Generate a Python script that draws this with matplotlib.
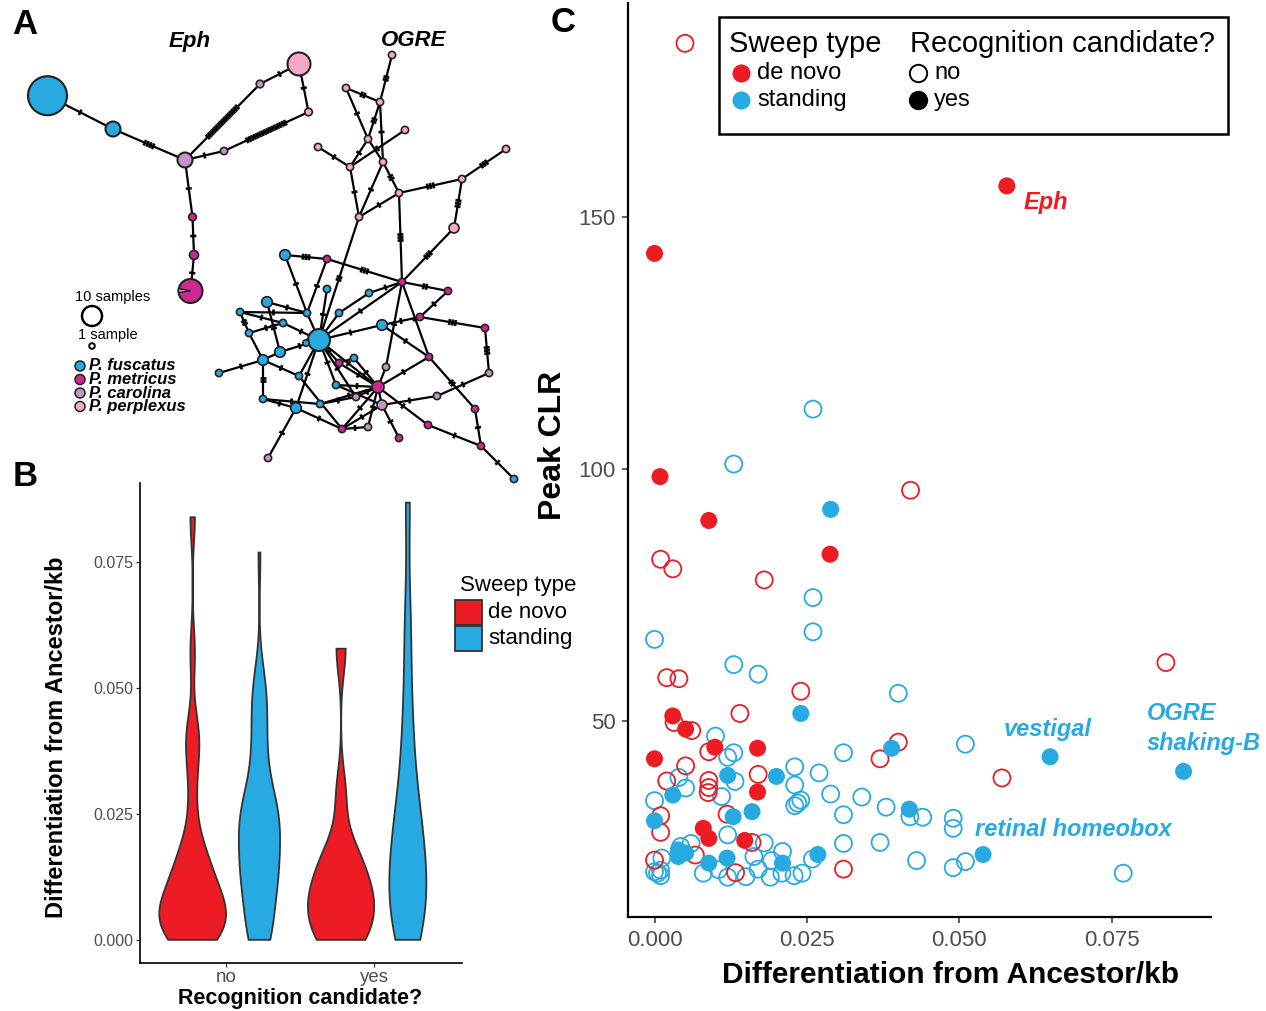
import numpy as np
import matplotlib
matplotlib.use("Agg")
import matplotlib.pyplot as plt
from matplotlib.patches import Circle, Rectangle, Wedge, Polygon
from matplotlib.lines import Line2D

plt.rcParams['font.family'] = ['Liberation Sans', 'DejaVu Sans']

# ---------------- data (panel C, also used for panel B violins) ----------------
denovo_yes_x = [0.0578, 0.000, 0.0009, 0.0089, 0.0288, 0.003, 0.0051, 0.0099, 0.0169,
                0.000, 0.0169, 0.008, 0.0089, 0.0148]
denovo_yes_clr = [156.2, 142.8, 98.5, 89.8, 83.1, 51.0, 48.4, 44.8, 44.6,
                  42.5, 35.9, 28.7, 26.7, 26.3]

denovo_no_x = [0.0050, 0.042, 0.001, 0.003, 0.018, 0.0839, 0.002, 0.004, 0.024, 0.014,
               0.0032, 0.0061, 0.040, 0.0089, 0.037, 0.0051, 0.057, 0.017, 0.002, 0.0089,
               0.0089, 0.0088, 0.0119, 0.001, 0.001, 0.016, 0.0067, 0.000, 0.0133, 0.031]
denovo_no_clr = [184.5, 95.8, 82.1, 80.2, 78.0, 61.6, 58.6, 58.4, 55.9, 51.5,
                 49.7, 48.1, 45.8, 43.9, 42.5, 41.1, 38.7, 39.4, 38.1, 38.2,
                 36.8, 35.8, 31.5, 31.2, 27.9, 25.9, 23.4, 22.4, 19.9, 20.6]

standing_yes_x = [0.0289, 0.024, 0.0389, 0.0649, 0.0868, 0.012, 0.020, 0.003, 0.0418, 0.016,
                  0.0129, 0.000, 0.0039, 0.0039, 0.0051, 0.0268, 0.0539, 0.0119, 0.0089, 0.021]
standing_yes_clr = [92.0, 51.5, 44.6, 42.9, 40.0, 39.2, 39.0, 35.3, 32.5, 32.0,
                    31.0, 30.2, 24.4, 23.1, 23.8, 23.5, 23.5, 22.8, 21.8, 21.8]

standing_no_x = [0.026, 0.013, 0.026, 0.026, 0.000, 0.013, 0.017, 0.040, 0.010, 0.051,
                 0.013, 0.012, 0.031, 0.023, 0.027, 0.004, 0.0132, 0.023, 0.0051, 0.011,
                 0.0289, 0.034, 0.000, 0.024, 0.023, 0.0235, 0.038, 0.031, 0.0419, 0.044,
                 0.049, 0.049, 0.012, 0.018, 0.031, 0.037, 0.006, 0.0043, 0.021, 0.0012,
                 0.0163, 0.0192, 0.043, 0.051, 0.0259, 0.049, 0.0769, 0.000, 0.001, 0.001,
                 0.0005, 0.008, 0.012, 0.015, 0.017, 0.019, 0.0209, 0.0229, 0.0242, 0.0105]
standing_no_clr = [111.9, 101.0, 74.5, 67.7, 66.2, 61.2, 59.3, 55.5, 47.0, 45.4,
                   43.7, 42.8, 43.7, 40.9, 39.7, 38.8, 38.0, 37.3, 36.7, 35.0,
                   35.5, 34.9, 34.2, 34.3, 33.2, 33.7, 32.9, 31.4, 31.0, 30.9,
                   30.7, 28.7, 27.4, 25.8, 25.7, 25.9, 25.7, 25.1, 24.1, 22.8,
                   23.1, 22.3, 22.3, 22.1, 22.6, 20.9, 19.8, 20.1, 20.4, 19.3,
                   19.8, 19.8, 19.0, 19.1, 20.6, 19.0, 19.8, 19.3, 19.8, 20.5]

recognition_cats = ['no', 'yes']
sweep_types = ['de novo', 'standing']
x_ticks_c = [0.000, 0.025, 0.050, 0.075]
y_ticks_c = [50, 100, 150]
y_ticks_b = [0.000, 0.025, 0.050, 0.075]

# ---------------- panel A network layout ----------------
network_nodes = [
    # Eph
    ('E1', 47.5, 95.7, 19.5, 'fu'), ('E2', 113, 129, 7.5, 'fu'), ('E3', 185, 160, 7.5, 'ca'),
    ('E4', 224, 151, 3.6, 'ca'), ('E5', 308.5, 112, 3.8, 'pe'), ('E6', 299, 64, 11.5, 'pe'),
    ('E7', 260, 84, 3.8, 'ca'), ('E8', 192.5, 217, 3.8, 'me'), ('E9', 194, 255, 4.5, 'me'),
    # OGRE
    ('P1', 392, 55, 3.6, 'pe'), ('P2', 346, 88, 3.6, 'pe'), ('P3', 380, 102, 3.6, 'pe'),
    ('P4', 368, 139, 3.6, 'pe'), ('P5', 405, 130, 3.6, 'pe'), ('P6', 318, 147, 3.6, 'pe'),
    ('P7', 383, 162, 3.6, 'pe'), ('P8', 350, 167, 3.6, 'pe'), ('P9', 506, 149, 3.6, 'pe'),
    ('P10', 462, 179, 3.6, 'pe'), ('P11', 399, 193, 3.6, 'pe'), ('P12', 359, 217, 3.6, 'pe'),
    ('P13', 454, 228, 5.0, 'pe'),
    ('B0', 319, 340, 11, 'fu'), ('B1', 285, 255, 5.3, 'fu'), ('B2', 327, 289, 3.6, 'fu'),
    ('B3', 369, 293, 3.6, 'fu'), ('B4', 267, 302, 5.3, 'fu'), ('B5', 240, 312, 3.6, 'fu'),
    ('B6', 307, 313, 3.6, 'fu'), ('B7', 339, 313, 3.6, 'fu'), ('B8', 283, 323, 3.6, 'fu'),
    ('B9', 382, 325, 5.3, 'fu'), ('B10', 249, 333, 3.6, 'fu'), ('B11', 280, 352, 5.3, 'fu'),
    ('B12', 263, 360, 5.3, 'fu'), ('B13', 219, 373, 3.6, 'fu'), ('B14', 299, 376, 3.6, 'fu'),
    ('B15', 354, 358, 3.6, 'fu'), ('B16', 336, 385, 3.6, 'fu'), ('B17', 263, 399, 3.6, 'fu'),
    ('B18', 296, 408, 5.3, 'fu'), ('B19', 320, 404, 3.6, 'fu'), ('B20', 306, 343, 3.2, 'fu'),
    ('BE', 514, 479, 3.6, 'fu'),
    ('M1', 402, 282, 3.6, 'me'), ('M2', 327, 259, 3.6, 'me'), ('M3', 448, 291, 3.6, 'me'),
    ('M4', 420, 317, 3.6, 'me'), ('M5', 485, 328, 3.6, 'me'), ('M6', 429, 357, 3.6, 'me'),
    ('M7', 378, 387, 6.0, 'me'), ('M8', 339, 363, 3.6, 'me'), ('M9', 342, 429, 3.6, 'me'),
    ('M10', 399, 438, 3.6, 'me'), ('M11', 475, 409, 3.6, 'me'), ('M12', 428, 425, 3.6, 'me'),
    ('M13', 481, 446, 3.6, 'me'),
    ('C1', 386, 367, 3.6, 'ca'), ('C2', 382, 405, 5.0, 'ca'), ('C3', 356, 397, 3.6, 'ca'),
    ('C4', 368, 427, 3.6, 'ca'), ('C5', 437, 396, 3.6, 'ca'), ('C6', 489, 373, 3.6, 'ca'),
    ('C7', 268, 458, 3.6, 'ca'),
]
pie_node = ('E10', 190.5, 291, 12, 'me')
network_edges = [
    ('E1', 'E2', 1), ('E2', 'E3', 4), ('E3', 'E4', 1), ('E4', 'E5', 16), ('E5', 'E6', 1),
    ('E3', 'E7', 16), ('E7', 'E6', 1), ('E3', 'E8', 1), ('E8', 'E9', 1), ('E9', 'E10', 1),
    ('P1', 'P3', 2), ('P2', 'P3', 2), ('P2', 'P4', 1), ('P3', 'P4', 2), ('P3', 'P7', 1),
    ('P4', 'P7', 0), ('P7', 'P11', 2), ('P4', 'P8', 1), ('P5', 'P8', 1), ('P6', 'P8', 1),
    ('P8', 'P12', 1), ('P7', 'P12', 1), ('P12', 'P11', 1), ('P11', 'P10', 3), ('P10', 'P9', 3),
    ('P10', 'P13', 3), ('P11', 'M1', 3), ('P13', 'M1', 3), ('P12', 'B0', 2),
    ('B1', 'M2', 3), ('M2', 'M1', 3), ('B1', 'B6', 1), ('M2', 'B6', 1), ('B2', 'B0', 1),
    ('B4', 'B6', 1), ('B5', 'B6', 1), ('B5', 'B10', 2), ('B4', 'B11', 2), ('B10', 'B8', 1),
    ('B8', 'B0', 1), ('B10', 'B12', 0), ('B12', 'B13', 1), ('B12', 'B11', 0), ('B11', 'B0', 1),
    ('B12', 'B17', 2), ('B17', 'B18', 1), ('B17', 'B19', 1), ('B18', 'C7', 1), ('B18', 'M9', 1),
    ('B12', 'B14', 1), ('B14', 'B0', 0), ('B0', 'B16', 1), ('B0', 'B18', 1), ('B0', 'C3', 1),
    ('B0', 'M7', 1), ('B7', 'B0', 0), ('B7', 'B3', 0), ('B3', 'M1', 1), ('B0', 'B9', 1),
    ('B9', 'M4', 1), ('M4', 'M3', 1), ('M1', 'M3', 2), ('M4', 'M5', 3), ('M5', 'C6', 3),
    ('C6', 'C5', 1), ('C5', 'C2', 1), ('M1', 'M6', 1), ('M1', 'C1', 1), ('M6', 'M7', 1),
    ('B9', 'M6', 1), ('M6', 'M11', 2), ('M11', 'M13', 1), ('M12', 'M13', 1), ('M13', 'BE', 1),
    ('M7', 'M12', 1), ('C2', 'M10', 1), ('C1', 'M7', 0), ('M7', 'C2', 0), ('M7', 'C3', 1),
    ('M7', 'C4', 1), ('M7', 'M9', 1), ('M7', 'B15', 1), ('M7', 'M8', 1), ('C2', 'M9', 1),
    ('C3', 'B19', 1), ('M9', 'C4', 1), ('B16', 'M7', 1), ('B19', 'M7', 1), ('M8', 'B15', 0),
    ('B0', 'M8', 1), ('B0', 'B20', 0), ('B6', 'B0', 0), ('B0', 'M1', 1), ('B5', 'B8', 1),
    ('B14', 'M9', 1), ('B16', 'C2', 1),
]
species_names = ['P. fuscatus', 'P. metricus', 'P. carolina', 'P. perplexus']

# ---------------- styles ----------------
W, H = 1266, 1011
RED = '#ED1C24'
BLUE = '#27AAE1'
SPC = {'fu': '#27AAE1', 'me': '#CC2A8E', 'ca': '#C495C6', 'pe': '#F4A7C6'}
GREY = '#4D4D4D'


def fx(x):
    return x / W


def fy(y):
    return 1 - y / H


fig = plt.figure(figsize=(W / 100, H / 100), dpi=100)

# ================= Panel A =================
axA = fig.add_axes([0, fy(490), 530 / W, 490 / H])
axA.set_xlim(0, 530)
axA.set_ylim(490, 0)
axA.axis('off')
pos = {n[0]: (n[1], n[2]) for n in network_nodes}
pos[pie_node[0]] = (pie_node[1], pie_node[2])
for a, b, nt in network_edges:
    (x1, y1), (x2, y2) = pos[a], pos[b]
    axA.plot([x1, x2], [y1, y2], color='black', lw=1.6, zorder=1, solid_capstyle='round')
    d = np.hypot(x2 - x1, y2 - y1)
    u = np.array([x2 - x1, y2 - y1]) / d
    nv = np.array([-u[1], u[0]])
    mid = np.array([(x1 + x2) / 2, (y1 + y2) / 2])
    sp = 2.8 if nt > 6 else 3.0
    for k in range(nt):
        off = (k - (nt - 1) / 2) * sp
        c = mid + u * off
        p1 = c + nv * 3.0
        p2 = c - nv * 3.0
        axA.plot([p1[0], p2[0]], [p1[1], p2[1]], color='black', lw=1.9, zorder=2,
                 solid_capstyle='butt')
for name, x, y, r, sp in network_nodes:
    axA.add_patch(Circle((x, y), r, facecolor=SPC[sp], edgecolor='#231F20',
                         lw=1.5 if r > 6 else 1.2, zorder=3))
pn, px, py, pr, psp = pie_node
axA.add_patch(Circle((px, py), pr, facecolor=SPC[psp], edgecolor='#231F20', lw=1.5, zorder=3))
axA.add_patch(Wedge((px, py), pr, 172, 192, facecolor=SPC['ca'], edgecolor='#231F20',
                    lw=1.0, zorder=4))

axA.text(190, 41, 'Eph', fontsize=16, fontweight='bold', fontstyle='italic',
         ha='center', va='center')
axA.text(414, 41, 'OGRE', fontsize=16, fontweight='bold', fontstyle='italic',
         ha='center', va='center')
axA.text(75, 297, '10 samples', fontsize=10.5, ha='left', va='center')
axA.add_patch(Circle((92, 316), 10, facecolor='white', edgecolor='black', lw=1.8))
axA.text(78, 335, '1 sample', fontsize=10.5, ha='left', va='center')
axA.add_patch(Circle((92, 346), 2.8, facecolor='white', edgecolor='black', lw=1.4))
for i, (nm, sp) in enumerate(zip(species_names, ['fu', 'me', 'ca', 'pe'])):
    yy = 366 + i * 13.5
    axA.add_patch(Circle((80, yy), 5, facecolor=SPC[sp], edgecolor='#231F20', lw=1.1))
    axA.text(89, yy, nm, fontsize=12, fontweight='bold', fontstyle='italic',
             ha='left', va='center')

# ================= Panel B =================
axB = fig.add_axes([fx(140), fy(963), (462 - 140) / W, (963 - 483) / H])
groups_b = [
    (denovo_no_x, 1 - 0.225, RED), (standing_no_x, 1 + 0.225, BLUE),
    (denovo_yes_x, 2 - 0.225, RED), (standing_yes_x, 2 + 0.225, BLUE),
]


def kde_nrd0(v):
    v = np.asarray(v, float)
    n = len(v)
    sd = np.std(v, ddof=1)
    iqr = np.subtract(*np.percentile(v, [75, 25]))
    lo = min(sd, iqr / 1.34) if iqr > 0 else sd
    bw = 0.9 * lo * n ** (-0.2)
    grid = np.linspace(v.min(), v.max(), 512)
    dens = np.exp(-0.5 * ((grid[:, None] - v[None, :]) / bw) ** 2).sum(1) / (n * bw * np.sqrt(2 * np.pi))
    return grid, dens


kdes = [kde_nrd0(g[0]) for g in groups_b]
dmax = max(d.max() for _, d in kdes)
for (vals, xc, col), (grid, dens) in zip(groups_b, kdes):
    hw = dens / dmax * 0.225
    xs = np.concatenate([xc - hw, (xc + hw)[::-1]])
    ys = np.concatenate([grid, grid[::-1]])
    axB.add_patch(Polygon(np.column_stack([xs, ys]), closed=True, facecolor=col,
                          edgecolor='#333333', lw=1.3))
axB.set_xlim(0.42, 2.59)
axB.set_ylim(-0.0046, 0.0907)
axB.set_xticks([1, 2])
axB.set_xticklabels(recognition_cats)
axB.set_yticks(y_ticks_b)
axB.set_yticklabels([f'{v:.3f}' for v in y_ticks_b])
for s in ['top', 'right']:
    axB.spines[s].set_visible(False)
for s in ['left', 'bottom']:
    axB.spines[s].set_linewidth(1.2)
axB.tick_params(axis='y', labelsize=11.5, labelcolor=GREY, length=3, width=0.9,
                color='#333333', pad=2)
axB.tick_params(axis='x', labelsize=13.5, labelcolor=GREY, length=3, width=0.9,
                color='#333333', pad=1)
axB.text(0.497, -0.073, 'Recognition candidate?', transform=axB.transAxes, fontsize=15.5,
         fontweight='bold', ha='center', va='center')
axB.text(-0.258, 0.471, 'Differentiation from Ancestor/kb', transform=axB.transAxes,
         fontsize=17, fontweight='bold', ha='center', va='center', rotation=90)

# legend B
fig.text(fx(460), fy(585), 'Sweep type', fontsize=16, ha='left', va='center')
for i, (lab, col) in enumerate(zip(sweep_types, [RED, BLUE])):
    y0 = 600 + i * 25.5
    fig.add_artist(Rectangle((fx(455), fy(y0 + 25)), 27 / W, 25 / H, facecolor=col,
                             edgecolor='#333333', lw=1.3, transform=fig.transFigure))
    fig.text(fx(488), fy(y0 + 13), lab, fontsize=16, ha='left', va='center')

# ================= Panel C =================
axC = fig.add_axes([fx(628), fy(917), (1211 - 628) / W, (917 - 3) / H])
ms2 = 150
axC.scatter(standing_no_x, standing_no_clr, s=ms2, facecolors='none', edgecolors=BLUE, lw=1.3, zorder=2)
axC.scatter(denovo_no_x, denovo_no_clr, s=ms2, facecolors='none', edgecolors=RED, lw=1.3, zorder=2)
axC.scatter(standing_yes_x, standing_yes_clr, s=ms2, color=BLUE, edgecolors='none', zorder=3)
axC.scatter(denovo_yes_x, denovo_yes_clr, s=ms2, color=RED, edgecolors='none', zorder=3)
axC.set_xlim(-0.00435, 0.0913)
axC.set_ylim(11.1, 192.5)
axC.set_xticks(x_ticks_c)
axC.set_xticklabels([f'{v:.3f}' for v in x_ticks_c])
axC.set_yticks(y_ticks_c)
for s in ['top', 'right']:
    axC.spines[s].set_visible(False)
for s in ['left', 'bottom']:
    axC.spines[s].set_linewidth(1.6)
axC.tick_params(labelsize=16, labelcolor=GREY, length=4, width=1.1, color='#333333', pad=5)
axC.text((950 - 628) / 583, (917 - 975) / 914, 'Differentiation from Ancestor/kb',
         transform=axC.transAxes, fontsize=21.5, fontweight='bold', ha='center', va='center')
axC.text((553 - 628) / 583, (917 - 445) / 914, 'Peak CLR', transform=axC.transAxes,
         fontsize=23, fontweight='bold', ha='center', va='center', rotation=90)

ann = dict(fontsize=17, fontweight='bold', fontstyle='italic', va='center')
axC.text(0.0606, 153.0, 'Eph', color=RED, ha='left', **ann)
axC.text(0.0645, 48.4, 'vestigal', color=BLUE, ha='center', **ann)
axC.text(0.0807, 51.4, 'OGRE', color=BLUE, ha='left', **ann)
axC.text(0.0807, 45.6, 'shaking-B', color=BLUE, ha='left', **ann)
axC.text(0.0526, 28.4, 'retinal homeobox', color=BLUE, ha='left', **ann)

# legend C
fig.add_artist(Rectangle((fx(719), fy(134)), (1228 - 719) / W, (134 - 17) / H, facecolor='white',
                         edgecolor='black', lw=1.8, transform=fig.transFigure, zorder=5))
fig.text(fx(729), fy(44), 'Sweep type', fontsize=21, ha='left', va='center', zorder=6)
fig.text(fx(910), fy(44), 'Recognition candidate?', fontsize=21, ha='left', va='center', zorder=6)
for i, (lab, col) in enumerate(zip(sweep_types, [RED, BLUE])):
    yy = 73 + i * 27
    fig.add_artist(Line2D([fx(741)], [fy(yy)], marker='o', ms=13, color=col, mec='none',
                          transform=fig.transFigure, zorder=6))
    fig.text(fx(757), fy(yy), lab, fontsize=17, ha='left', va='center', zorder=6)
for i, (lab, filled) in enumerate(zip(recognition_cats, [False, True])):
    yy = 73 + i * 27
    fig.add_artist(Line2D([fx(918)], [fy(yy)], marker='o', ms=12.5,
                          mfc='black' if filled else 'white', mec='black', mew=1.4,
                          transform=fig.transFigure, zorder=6))
    fig.text(fx(934), fy(yy), lab, fontsize=17, ha='left', va='center', zorder=6)

# panel letters
for lab, x, y in [('A', 12, 25), ('B', 13, 477), ('C', 551, 22)]:
    fig.text(fx(x), fy(y), lab, fontsize=25, fontweight='bold', ha='left', va='center')

fig.savefig('out.png', dpi=100)
